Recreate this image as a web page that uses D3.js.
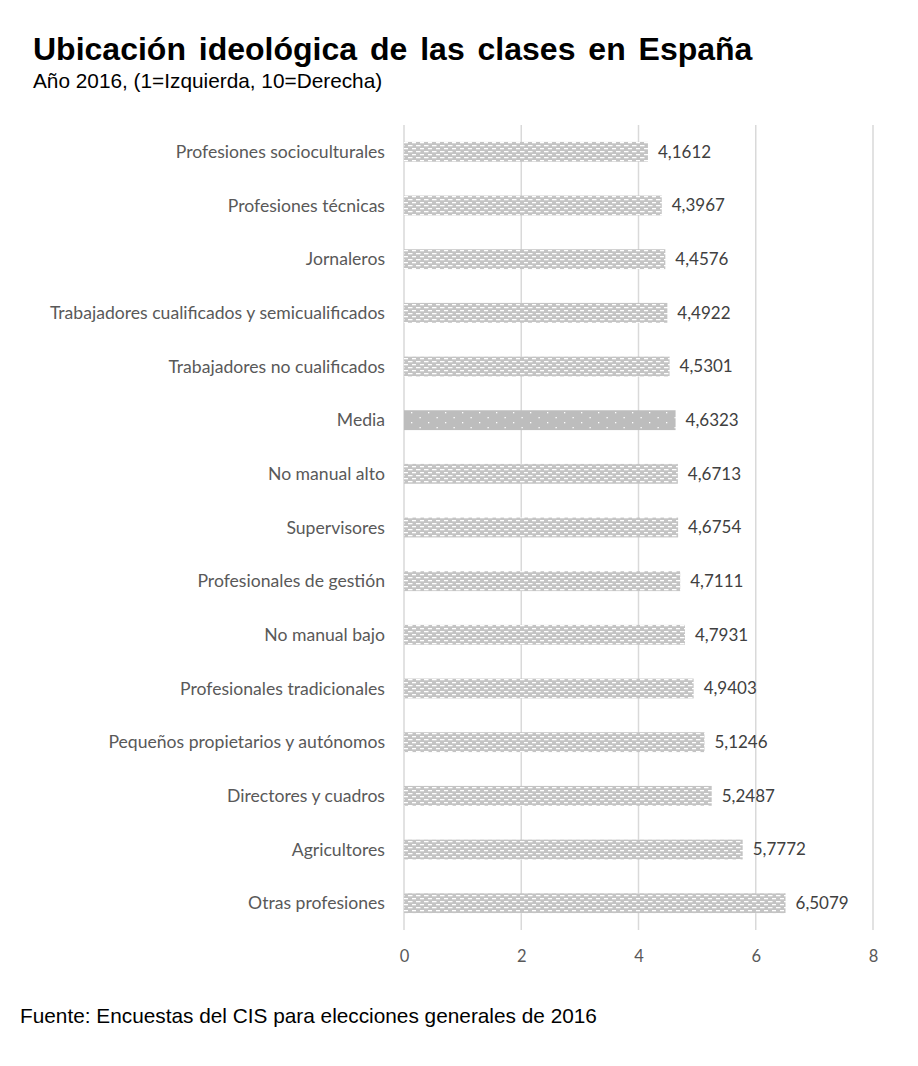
<!DOCTYPE html>
<html><head><meta charset="utf-8">
<script src="https://cdn.jsdelivr.net/npm/d3@7"></script>
<style>body{margin:0;background:#fff}</style>
</head><body>
<svg id="c" width="918" height="1066"></svg>
<script>
const categories = ["Profesiones socioculturales","Profesiones técnicas","Jornaleros","Trabajadores cualificados y semicualificados","Trabajadores no cualificados","Media","No manual alto","Supervisores","Profesionales de gestión","No manual bajo","Profesionales tradicionales","Pequeños propietarios y autónomos","Directores y cuadros","Agricultores","Otras profesiones"];
const values = [4.1612,4.3967,4.4576,4.4922,4.5301,4.6323,4.6713,4.6754,4.7111,4.7931,4.9403,5.1246,5.2487,5.7772,6.5079];
const ticks = [0,2,4,6,8];
const highlight = "Media";

const svg = d3.select("#c");
const defs = svg.append("defs");
const p1 = defs.append("pattern").attr("id","dash").attr("patternUnits","userSpaceOnUse").attr("width",8).attr("height",6);
p1.append("rect").attr("width",8).attr("height",6).attr("fill","#c4c4c4");
p1.append("rect").attr("x",0).attr("y",1).attr("width",4.5).attr("height",1.3).attr("fill","#fff");
p1.append("rect").attr("x",4).attr("y",4).attr("width",4.5).attr("height",1.3).attr("fill","#fff");
const p2 = defs.append("pattern").attr("id","dots").attr("patternUnits","userSpaceOnUse").attr("width",17).attr("height",10);
p2.append("rect").attr("width",17).attr("height",10).attr("fill","#bdbdbd");
p2.append("rect").attr("x",3).attr("y",2).attr("width",1.3).attr("height",1.3).attr("fill","#fff");
p2.append("rect").attr("x",11.5).attr("y",7).attr("width",1.3).attr("height",1.3).attr("fill","#fff");

const x = d3.scaleLinear().domain([0,8]).range([404,873]);
const y = d3.scaleBand().domain(categories).range([125,930]).paddingInner(0.63).paddingOuter(0.315);
const FONT = "Lato, 'Open Sans', sans-serif";

svg.append("g").selectAll("line").data(ticks).join("line")
  .attr("x1",d=>x(d)).attr("x2",d=>x(d)).attr("y1",125).attr("y2",930)
  .attr("stroke","#d9d9d9").attr("stroke-width",1.5);

const ax = svg.append("g").attr("transform","translate(0,930)")
  .call(d3.axisBottom(x).tickValues(ticks).tickSize(0).tickPadding(20));
ax.select(".domain").remove();
ax.selectAll("text").attr("font-family",FONT).attr("font-size",16.5).attr("fill","#595959");

svg.append("g").selectAll("rect").data(categories).join("rect")
  .attr("x",x(0)).attr("y",d=>y(d)).attr("height",y.bandwidth())
  .attr("width",(d,i)=>x(values[i])-x(0))
  .attr("fill",d=>d===highlight?"url(#dots)":"url(#dash)");

const fmt = v => String(v).replace(".",",");
svg.append("g").selectAll("text").data(categories).join("text")
  .attr("x",(d,i)=>x(values[i])+10).attr("y",d=>y(d)+y.bandwidth()/2)
  .attr("dy","0.35em").attr("font-family",FONT).attr("font-size",17)
  .attr("fill","#404040").text((d,i)=>fmt(values[i]));

svg.append("g").selectAll("text").data(categories).join("text")
  .attr("x",385).attr("y",d=>y(d)+y.bandwidth()/2).attr("text-anchor","end")
  .attr("dy","0.35em").attr("font-family",FONT).attr("font-size",17.6)
  .attr("fill","#595959").text(d=>d);

svg.append("text").attr("x",33).attr("y",60).attr("font-family","'Liberation Sans', Arial, sans-serif")
  .attr("font-weight","bold").attr("font-size",32).attr("word-spacing",4).attr("fill","#000")
  .text("Ubicación ideológica de las clases en España");
svg.append("text").attr("x",33).attr("y",88).attr("font-family","'Liberation Sans', Arial, sans-serif")
  .attr("font-size",20.8).attr("fill","#000").text("Año 2016, (1=Izquierda, 10=Derecha)");
svg.append("text").attr("x",20).attr("y",1023).attr("font-family","'Liberation Sans', Arial, sans-serif")
  .attr("font-size",20.8).attr("fill","#000").text("Fuente: Encuestas del CIS para elecciones generales de 2016");
</script>
</body></html>
